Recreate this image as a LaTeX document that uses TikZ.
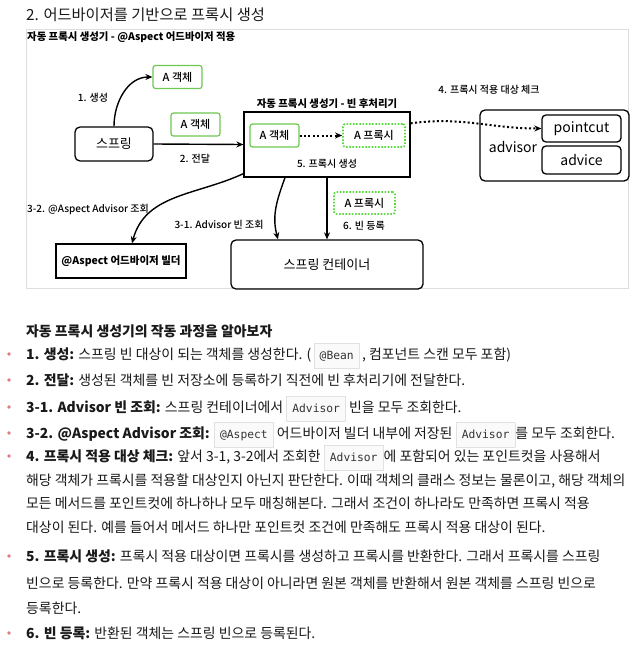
\documentclass[tikz,border=0pt]{standalone}
\usepackage{fontspec}
\setmainfont{Noto Sans CJK KR}
\setmonofont{DejaVu Sans Mono}
\newfontfamily\medfont{Noto Sans CJK KR Medium}
\usetikzlibrary{arrows.meta,positioning}
\definecolor{boxgreen}{RGB}{110,200,80}
\definecolor{dotgreen}{RGB}{90,220,60}
\definecolor{framegray}{RGB}{222,222,222}
\definecolor{bulletred}{RGB}{226,120,130}
\definecolor{codeline}{RGB}{225,225,225}
\definecolor{codebg}{RGB}{250,250,250}
\definecolor{inktext}{RGB}{25,25,25}
\newcommand{\code}[1]{{\setlength\fboxsep{2.5pt}\setlength\fboxrule{0.6pt}\fcolorbox{codeline}{codebg}{\hspace{3pt}\rule[-6.5pt]{0pt}{19pt}{\ttfamily\fontsize{11.3}{11.3}\selectfont\color{black!80}#1}\hspace{3pt}}}}

\begin{document}
\begin{tikzpicture}[
    x=1pt, y=-1pt,
    >={Stealth[length=7pt,width=6pt]},
    obj/.style={draw=boxgreen, line width=1.2pt, rounded corners=2.5pt, minimum width=49pt, minimum height=23pt, inner sep=0pt, font=\medfont\fontsize{11}{11}\selectfont},
    proxy/.style={obj, draw=dotgreen, dash pattern=on 1.6pt off 1.6pt, line width=1.8pt},
    blk/.style={draw, line width=1.3pt, rounded corners=5pt, inner sep=0pt, font=\fontsize{13}{13}\selectfont},
    lbl/.style={inner sep=0pt, font=\medfont\fontsize{10}{10}\selectfont},
    ttl/.style={inner sep=0pt, font=\bfseries\fontsize{10.4}{10.4}\selectfont},
    flow/.style={->, line width=1.4pt},
    dots/.style={->, line width=2pt, dash pattern=on 2pt off 2.4pt},
    body/.style={anchor=base west, inner sep=0pt, text=inktext, font=\fontsize{13.9}{13.9}\selectfont}
]
    \useasboundingbox (0,0) rectangle (641,645);
    \fill[white] (0,0) rectangle (641,645);

    \node[anchor=west, inner sep=0pt, text=inktext, font=\fontsize{15.3}{15.3}\selectfont] (title) at (26,15) {2. 어드바이저를 기반으로 프록시 생성};

    \draw[framegray, line width=0.8pt] (26,29) rectangle (628,288);
    \node[ttl, anchor=west] (frametitle) at (27,37) {자동 프록시 생성기 - @Aspect 어드바이저 적용};

    \node[obj] (objtop) at (177.5,77) {A 객체};
    \node[blk, minimum width=78pt, minimum height=34pt] (spring) at (114,144) {스프링};
    \node[obj] (objmid) at (195.5,124.5) {A 객체};
    \node[draw, line width=1.3pt, minimum width=166pt, minimum height=65pt, inner sep=0pt] (bpp) at (327,144.5) {};
    \node[ttl] (bpptitle) at (327,104) {자동 프록시 생성기 - 빈 후처리기};
    \node[obj] (objin) at (274.5,135.5) {A 객체};
    \node[proxy, minimum width=62pt] (proxyin) at (374,135.5) {A 프록시};
    \node[lbl] (lblfive) at (327,164) {5. 프록시 생성};

    \node[blk, minimum width=149pt, minimum height=71pt] (advisor) at (554.5,145.5) {};
    \node[inner sep=0pt, font=\fontsize{14}{14}\selectfont] (advisortxt) at (513,147) {advisor};
    \node[blk, minimum width=79pt, minimum height=27pt, rounded corners=4pt, font=\fontsize{14}{14}\selectfont] (pointcut) at (581.5,128.5) {pointcut};
    \node[blk, minimum width=79pt, minimum height=28pt, rounded corners=4pt, font=\fontsize{14}{14}\selectfont] (advice) at (581.5,160) {advice};

    \node[draw, line width=1.3pt, minimum width=130pt, minimum height=34pt, inner sep=0pt, font=\bfseries\fontsize{10.5}{10.5}\selectfont] (builder) at (121,261) {@Aspect 어드바이저 빌더};
    \node[blk, minimum width=192pt, minimum height=49pt] (container) at (327,264.5) {스프링 컨테이너};
    \node[proxy, minimum width=61pt, minimum height=22pt] (proxydown) at (364.5,203) {A 프록시};

    \node[lbl] (lblone) at (93,98) {1. 생성};
    \node[lbl] (lbltwo) at (195,159) {2. 전달};
    \node[lbl] (lblfour) at (489,90) {4. 프록시 적용 대상 체크};
    \node[lbl, anchor=west] (lblthreetwo) at (27,209) {3-2. @Aspect Advisor 조회};
    \node[lbl] (lblthreeone) at (219,225) {3-1. Advisor 빈 조회};
    \node[lbl] (lblsix) at (364,226) {6. 빈 등록};

    \draw[flow] (spring.north) to[out=90, in=180] (objtop.west);
    \draw[flow] (spring.east) -- (bpp.west);
    \draw[dots] (objin.east) -- (proxyin.west);
    \draw[dots] ([yshift=-12pt]bpp.north east) to[out=8, in=180] (pointcut.west);
    \draw[flow] ([yshift=4pt]bpp.south west) to[out=205, in=75] ([xshift=11pt]builder.north);
    \draw[flow] ([xshift=-42pt]bpp.south) to[out=250, in=105] ([xshift=-49pt]container.north);
    \draw[flow] (bpp.south) -- (container.north);

    \foreach \y in {354,380,407,433,456,556,633}
        \fill[bulletred] (9,\y) circle (1.8);

    \node[body] (t0) at (26,336) {\textbf{자동 프록시 생성기의 작동 과정을 알아보자}};
    \node[body] (t1) at (26,359) {\textbf{1. 생성:} 스프링 빈 대상이 되는 객체를 생성한다. (\,\code{@Bean}\,, 컴포넌트 스캔 모두 포함)};
    \node[body] (t2) at (26,385) {\textbf{2. 전달:} 생성된 객체를 빈 저장소에 등록하기 직전에 빈 후처리기에 전달한다.};
    \node[body] (t3) at (26,412) {\textbf{3-1. Advisor 빈 조회:} 스프링 컨테이너에서 \code{Advisor} 빈을 모두 조회한다.};
    \node[body] (t4) at (26,438) {\textbf{3-2. @Aspect Advisor 조회:} \code{@Aspect} 어드바이저 빌더 내부에 저장된 \code{Advisor}를 모두 조회한다.};
    \node[body] (t5) at (26,461) {\textbf{4. 프록시 적용 대상 체크:} 앞서 3-1, 3-2에서 조회한 \code{Advisor}에 포함되어 있는 포인트컷을 사용해서};
    \node[body] (t6) at (26,485) {해당 객체가 프록시를 적용할 대상인지 아닌지 판단한다. 이때 객체의 클래스 정보는 물론이고, 해당 객체의};
    \node[body] (t7) at (26,508) {모든 메서드를 포인트컷에 하나하나 모두 매칭해본다. 그래서 조건이 하나라도 만족하면 프록시 적용};
    \node[body] (t8) at (26,532) {대상이 된다. 예를 들어서 메서드 하나만 포인트컷 조건에 만족해도 프록시 적용 대상이 된다.};
    \node[body] (t9) at (26,561) {\textbf{5. 프록시 생성:} 프록시 적용 대상이면 프록시를 생성하고 프록시를 반환한다. 그래서 프록시를 스프링};
    \node[body] (t10) at (26,588) {빈으로 등록한다. 만약 프록시 적용 대상이 아니라면 원본 객체를 반환해서 원본 객체를 스프링 빈으로};
    \node[body] (t11) at (26,613) {등록한다.};
    \node[body] (t12) at (26,638) {\textbf{6. 빈 등록:} 반환된 객체는 스프링 빈으로 등록된다.};
\end{tikzpicture}
\end{document}
